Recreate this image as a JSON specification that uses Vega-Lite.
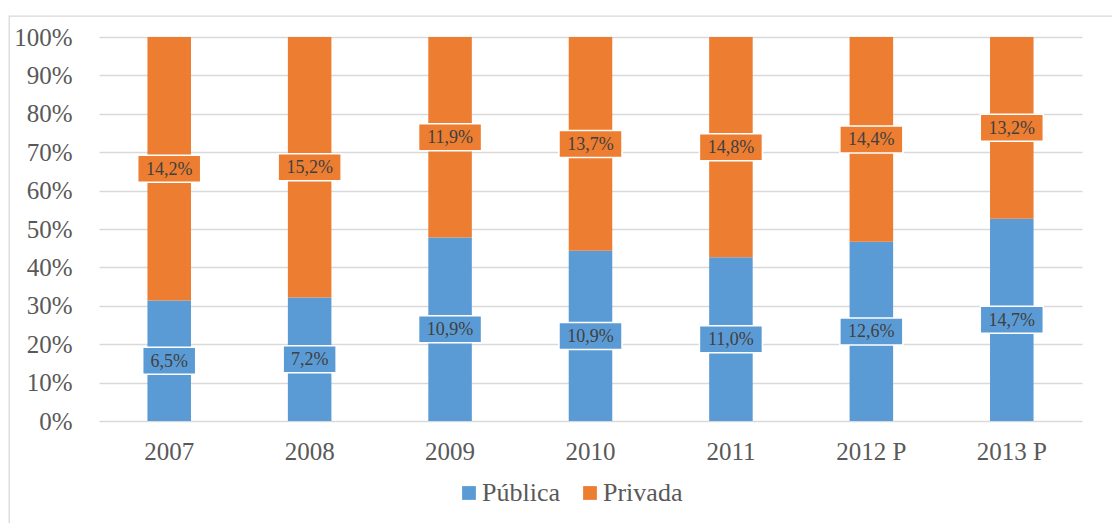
{
  "$schema": "https://vega.github.io/schema/vega-lite/v6.json",
  "width": 1108,
  "height": 512,
  "autosize": {"type": "none"},
  "padding": {"left": 9, "top": 16, "right": 0, "bottom": 0},
  "background": "white",
  "config": {
    "view": {"stroke": "#d9d9d9", "strokeWidth": 1.3},
    "font": "Liberation Serif"
  },
  "data": {
    "values": [
      {"year": "2007", "serie": "Pública", "value": 6.5},
      {"year": "2007", "serie": "Privada", "value": 14.2},
      {"year": "2008", "serie": "Pública", "value": 7.2},
      {"year": "2008", "serie": "Privada", "value": 15.2},
      {"year": "2009", "serie": "Pública", "value": 10.9},
      {"year": "2009", "serie": "Privada", "value": 11.9},
      {"year": "2010", "serie": "Pública", "value": 10.9},
      {"year": "2010", "serie": "Privada", "value": 13.7},
      {"year": "2011", "serie": "Pública", "value": 11.0},
      {"year": "2011", "serie": "Privada", "value": 14.8},
      {"year": "2012 P", "serie": "Pública", "value": 12.6},
      {"year": "2012 P", "serie": "Privada", "value": 14.4},
      {"year": "2013 P", "serie": "Pública", "value": 14.7},
      {"year": "2013 P", "serie": "Privada", "value": 13.2}
    ]
  },
  "transform": [
    {"stack": "value", "groupby": ["year"], "sort": [{"field": "serie", "order": "descending"}], "offset": "normalize", "as": ["v0", "v1"]},
    {"calculate": "(datum.v0 + datum.v1) / 2", "as": "mid"},
    {"calculate": "replace(format(datum.value, '.1f'), '.', ',') + '%'", "as": "label"}
  ],
  "encoding": {
    "x": {
      "field": "year", "type": "nominal",
      "scale": {"paddingInner": 0.69, "paddingOuter": 0.345, "range": [90, 1073]},
      "axis": {
        "title": null, "labelAngle": 0, "ticks": false, "domain": false,
        "labelFontSize": 25, "labelColor": "#595959", "labelPadding": 18,
        "labelFont": "Liberation Serif", "offset": -107
      }
    }
  },
  "layer": [
    {
      "mark": {"type": "bar"},
      "encoding": {
        "y": {
          "field": "v1", "type": "quantitative",
          "scale": {"domain": [0, 1], "nice": false, "range": [405, 21]},
          "axis": {
            "title": null, "format": ".0%", "values": [0, 0.1, 0.2, 0.3, 0.4, 0.5, 0.6, 0.7, 0.8, 0.9, 1],
            "labelOverlap": false,
            "ticks": false, "domain": false, "grid": true, "gridColor": "#d9d9d9", "gridWidth": 1.3,
            "labelFontSize": 25, "labelColor": "#595959", "labelPadding": 0,
            "labelFont": "Liberation Serif", "offset": -63
          }
        },
        "y2": {"field": "v0"},
        "color": {
          "field": "serie", "type": "nominal",
          "scale": {"domain": ["Pública", "Privada"], "range": ["#5b9bd5", "#ed7d31"]},
          "legend": {
            "title": null, "orient": "none", "direction": "horizontal",
            "legendX": 447, "legendY": 464,
            "symbolType": "square", "symbolSize": 190, "symbolStrokeWidth": 0,
            "labelFontSize": 26, "labelColor": "#595959", "labelFont": "Liberation Serif",
            "labelOffset": 0, "columnPadding": 17
          }
        }
      }
    },
    {
      "mark": {"type": "point", "filled": true, "opacity": 1, "stroke": "white", "strokeWidth": 1.5},
      "encoding": {
        "y": {"field": "mid", "type": "quantitative"},
        "fill": {
          "field": "serie", "type": "nominal",
          "scale": {"domain": ["Pública", "Privada"], "range": ["#5b9bd5", "#ed7d31"]},
          "legend": null
        },
        "shape": {
          "condition": {"test": "length(datum.label) > 4", "value": "M-1,-0.4286H1V0.4286H-1Z"},
          "value": "M-1,-0.509H1V0.509H-1Z"
        },
        "size": {
          "condition": {"test": "length(datum.label) > 4", "value": 3969},
          "value": 2809
        }
      }
    },
    {
      "mark": {"type": "text", "fontSize": 18, "color": "#404040", "baseline": "middle", "align": "center", "dy": 1, "font": "Liberation Serif"},
      "encoding": {
        "y": {"field": "mid", "type": "quantitative"},
        "text": {"field": "label"}
      }
    }
  ]
}
